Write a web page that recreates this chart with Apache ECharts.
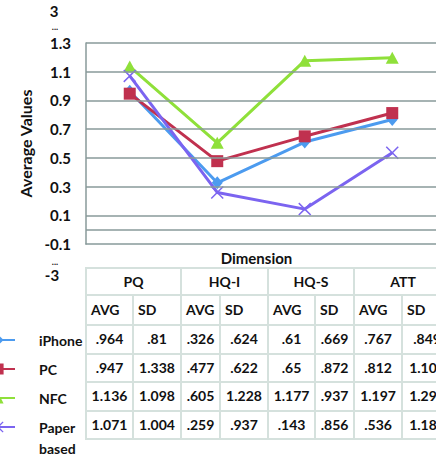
<!DOCTYPE html>
<html>
<head>
<meta charset="utf-8">
<script src="https://cdn.jsdelivr.net/npm/echarts@6/dist/echarts.min.js"></script>
<style>
  html, body { margin: 0; padding: 0; background: #fff; }
  #wrap { position: relative; width: 436px; height: 455px; overflow: hidden; }
  #chart { position: absolute; left: 0; top: 0; width: 436px; height: 455px; }
  #dataTable {
    position: absolute; left: 85px; top: 267px;
    border-collapse: collapse; table-layout: fixed; width: 366px;
    font-family: Lato, "Liberation Sans", sans-serif; font-weight: bold;
    font-size: 14px; color: #111; background: #fff;
  }
  #dataTable td {
    border: 2.5px solid #d5e1dd; padding: 0; white-space: nowrap;
    overflow: hidden; text-align: center; line-height: 16px;
  }
  #dataTable tr.grp td { height: 25px; }
  #dataTable tr.sub td { height: 28px; text-align: left; padding-left: 4px; }
  #dataTable tr.val td { height: 26.5px; }
</style>
</head>
<body>
<div id="wrap">
  <div id="chart"></div>
  <table id="dataTable"></table>
</div>
<script>
// Dimensions and the four groups
const dimensions = ['PQ', 'HQ-I', 'HQ-S', 'ATT'];
const groupNames = ['iPhone', 'PC', 'NFC', 'Paper based'];

// Average values per dimension
const avgIPhone = [0.964, 0.326, 0.61, 0.767];
const avgPC     = [0.947, 0.477, 0.65, 0.812];
const avgNFC    = [1.136, 0.605, 1.177, 1.197];
const avgPaper  = [1.071, 0.259, 0.143, 0.536];

// Standard deviations per dimension
const sdIPhone = [0.81, 0.624, 0.669, 0.849];
const sdPC     = [1.338, 0.622, 0.872, 1.105];
const sdNFC    = [1.098, 1.228, 0.937, 1.294];
const sdPaper  = [1.004, 0.937, 0.856, 1.183];

// Value axis labels, gridlines and the broken-axis end labels
const yTickLabels = ['1.3', '1.1', '0.9', '0.7', '0.5', '0.3', '0.1', '-0.1'];
const gridValues = [1.3, 1.1, 0.9, 0.7, 0.5, 0.3, 0.1, 0];
const axisTopLabel = '3';
const axisBottomLabel = '-3';
const statHeaders = ['AVG', 'SD'];

const FONT = 'Lato, "Liberation Sans", sans-serif';
const GRID_COLOR = '#889a9a';
const colors = ['#4c9bef', '#c0314f', '#8fe03a', '#7b64f0'];

const avgRows = [avgIPhone, avgPC, avgNFC, avgPaper];
const sdRows = [sdIPhone, sdPC, sdNFC, sdPaper];

// X-shaped marker for the paper-based group
const crossPath = 'path://M0,8L8,0L50,42L92,0L100,8L58,50L100,92L92,100L50,58L8,100L0,92L42,50Z';
const symbols = ['diamond', 'rect', 'triangle', crossPath];
const symbolSizes = [[11, 13], 12, [13, 12], 13];

const chart = echarts.init(document.getElementById('chart'), null, { renderer: 'svg' });

const lineSeries = groupNames.map((name, i) => ({
  name: name,
  type: 'line',
  data: avgRows[i],
  z: 3,
  symbol: symbols[i],
  symbolSize: symbolSizes[i],
  showAllSymbol: true,
  lineStyle: { width: 3, color: colors[i] },
  itemStyle: { color: colors[i] },
  emphasis: { disabled: true }
}));

// Horizontal gridlines drawn beneath the data lines
const gridSeries = {
  name: 'grid',
  type: 'line',
  data: [],
  z: 1,
  markLine: {
    silent: true,
    symbol: 'none',
    animation: false,
    label: { show: false },
    lineStyle: { color: GRID_COLOR, width: 1.5, type: 'solid' },
    emphasis: { disabled: true },
    data: gridValues.map(v => ({ yAxis: v }))
  }
};

// One legend entry per table row, lined up with the row it labels.
// A two-word name wraps onto a second line under the icon's line.
const legendRowCenters = [340, 369, 398, 427];
const legendTextStyle = {
  fontFamily: FONT, fontWeight: 'bold', fontSize: 14, color: '#111',
  lineHeight: 16, padding: [0, 0, 0, 19]
};
const legends = groupNames.map((n, i) => {
  const twoLine = n.indexOf(' ') >= 0;
  return {
    orient: 'vertical',
    left: -20,
    top: twoLine ? legendRowCenters[i] - 31.5 : legendRowCenters[i] - 8,
    padding: 0,
    itemWidth: 34,
    itemHeight: 14,
    selectedMode: false,
    formatter: s => (s.indexOf(' ') >= 0 ? '\n' + s.replace(' ', '\n') : s),
    textStyle: twoLine ? Object.assign({}, legendTextStyle, { lineHeight: 21 }) : legendTextStyle,
    data: [n]
  };
});

chart.setOption({
  animation: false,
  backgroundColor: 'transparent',
  grid: { left: 86, top: 43, width: 361, bottom: 211, containLabel: false },
  xAxis: {
    type: 'category',
    data: dimensions,
    boundaryGap: true,
    name: 'Dimension',
    nameLocation: 'middle',
    nameGap: 6,
    nameTextStyle: { fontFamily: FONT, fontWeight: 'bold', fontSize: 15, color: '#111', padding: [0, 9, 0, 0] },
    axisLine: { show: true, onZero: false, lineStyle: { color: GRID_COLOR, width: 1.5 } },
    axisTick: { show: false },
    axisLabel: { show: false },
    splitLine: { show: false }
  },
  yAxis: {
    type: 'value',
    min: -0.1,
    max: 1.3,
    interval: 0.1,
    name: 'Average Values',
    nameLocation: 'middle',
    nameRotate: 90,
    nameGap: 49,
    nameTextStyle: { fontFamily: FONT, fontWeight: 'bold', fontSize: 16, color: '#111' },
    axisLine: { show: true, lineStyle: { color: GRID_COLOR, width: 1.5 } },
    axisTick: { show: false },
    splitLine: { show: false },
    axisLabel: {
      margin: 15,
      fontFamily: FONT, fontWeight: 'bold', fontSize: 15, color: '#111',
      formatter: v => {
        const s = (Math.round(v * 10) / 10).toFixed(1);
        return yTickLabels.indexOf(s) >= 0 ? s : '';
      }
    }
  },
  legend: legends,
  series: [gridSeries].concat(lineSeries)
});

// Broken-axis end labels above the top and below the bottom of the value axis
const yTop = chart.convertToPixel({ yAxisIndex: 0 }, 1.3);
const yBottom = chart.convertToPixel({ yAxisIndex: 0 }, -0.1);
const endStyle = { fontFamily: FONT, fontWeight: 'bold', fontSize: 15, fill: '#111', align: 'center', verticalAlign: 'middle' };
const dotStyle = { fontFamily: FONT, fontWeight: 'bold', fontSize: 9, fill: '#111', align: 'center', verticalAlign: 'middle' };
chart.setOption({
  graphic: [
    { type: 'text', x: 54, y: yTop - 32, style: Object.assign({ text: axisTopLabel }, endStyle) },
    { type: 'text', x: 55, y: yTop - 17, style: Object.assign({ text: '...' }, dotStyle) },
    { type: 'text', x: 55, y: yBottom + 17, style: Object.assign({ text: '...' }, dotStyle) },
    { type: 'text', x: 52, y: yBottom + 31, style: Object.assign({ text: axisBottomLabel }, endStyle) }
  ]
});

// Data table under the plot: dimension headers, AVG/SD headers, one row per group
const fmt = v => String(v).replace(/^0\./, '.');
const colWidths = [47, 48, 39, 48, 47, 39, 48, 50];
let html = '<colgroup>' + colWidths.map(w => '<col style="width:' + w + 'px">').join('') + '</colgroup>';
html += '<tr class="grp">' + dimensions.map(d => '<td colspan="2">' + d + '</td>').join('') + '</tr>';
html += '<tr class="sub">' + dimensions.map(() => statHeaders.map(h => '<td>' + h + '</td>').join('')).join('') + '</tr>';
groupNames.forEach((n, r) => {
  html += '<tr class="val">' + dimensions.map((d, c) =>
    '<td>' + fmt(avgRows[r][c]) + '</td><td>' + fmt(sdRows[r][c]) + '</td>').join('') + '</tr>';
});
document.getElementById('dataTable').innerHTML = html;
</script>
</body>
</html>
